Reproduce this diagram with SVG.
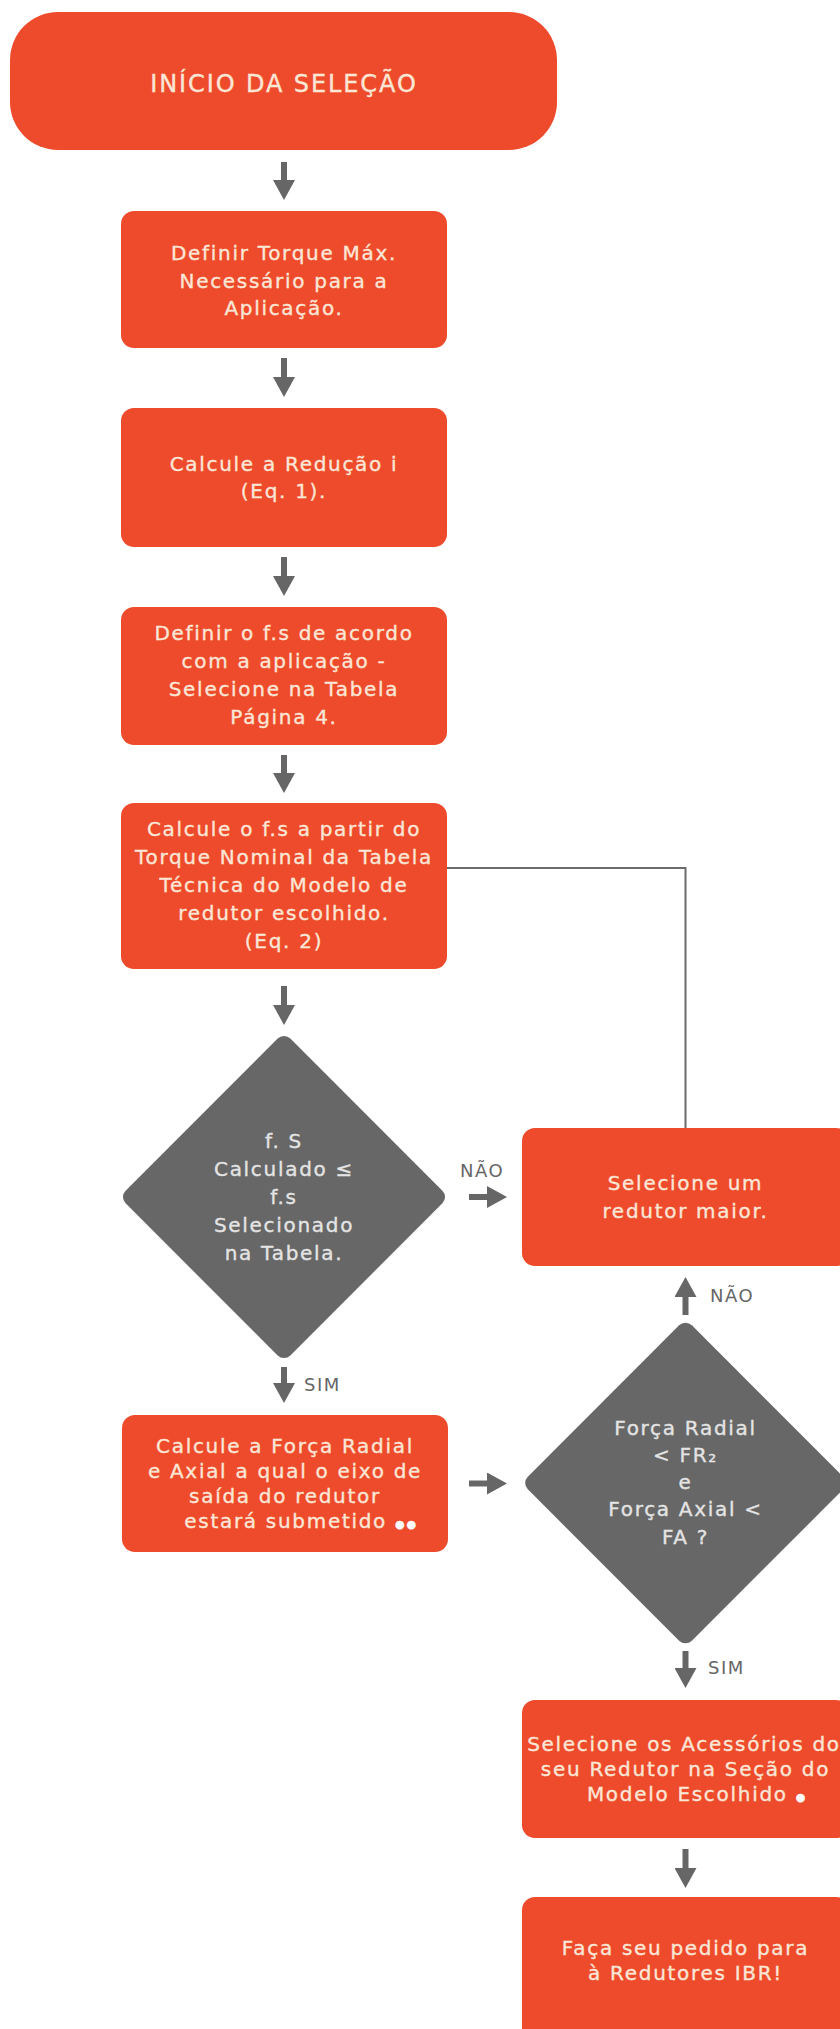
<svg xmlns="http://www.w3.org/2000/svg" width="840" height="2029" viewBox="0 0 840 2029">
<defs>
<style>
.box{fill:#EE4B2D}
.dia{fill:#676767}
.t{font-family:"DejaVu Sans",sans-serif;font-size:20px;letter-spacing:1.7px;fill:#FCE6D6;stroke:#FCE6D6;stroke-width:0.35px;text-anchor:middle}
.td{font-family:"DejaVu Sans",sans-serif;font-size:20px;letter-spacing:1.7px;fill:#E4E4E4;stroke:#E4E4E4;stroke-width:0.35px;text-anchor:middle}
.title{font-family:"DejaVu Sans",sans-serif;font-size:24px;letter-spacing:1.9px;fill:#FCE6D6;stroke:#FCE6D6;stroke-width:0.35px;text-anchor:middle}
.lbl{font-family:"DejaVu Sans",sans-serif;font-size:18px;letter-spacing:1.5px;fill:#666666}
.arr{stroke:#666666;stroke-width:6;fill:none;marker-end:url(#ah)}
.loop{stroke:#6b6b6b;stroke-width:2;fill:none}
.dot{font-size:11px;fill:#FFFFFF;stroke:#FFFFFF}
</style>
<marker id="ah" markerUnits="userSpaceOnUse" markerWidth="20" markerHeight="22" viewBox="0 0 20 22" refX="1" refY="11" orient="auto">
<path d="M0,0 L20,11 L0,22 z" fill="#666666"/>
</marker>
</defs>
<rect x="0" y="0" width="840" height="2029" fill="#FFFFFF"/>

<g id="connectors">
<polyline class="loop" points="447,868 685.5,868 685.5,1128"/>
<line class="arr" x1="284" y1="162" x2="284" y2="181"/>
<line class="arr" x1="284" y1="358" x2="284" y2="378"/>
<line class="arr" x1="284" y1="557" x2="284" y2="577"/>
<line class="arr" x1="284" y1="755" x2="284" y2="774"/>
<line class="arr" x1="284" y1="986" x2="284" y2="1006"/>
<line class="arr" x1="469" y1="1197" x2="488" y2="1197"/>
<line class="arr" x1="284" y1="1367" x2="284" y2="1384"/>
<line class="arr" x1="469" y1="1483.5" x2="488" y2="1483.5"/>
<line class="arr" x1="685.5" y1="1315" x2="685.5" y2="1296"/>
<line class="arr" x1="685.5" y1="1651" x2="685.5" y2="1669"/>
<line class="arr" x1="685.5" y1="1849" x2="685.5" y2="1869"/>
<text class="lbl" x="460" y="1177">NÃO</text>
<text class="lbl" x="710" y="1302">NÃO</text>
<text class="lbl" x="304" y="1391">SIM</text>
<text class="lbl" x="708" y="1674">SIM</text>
</g>

<g id="inicio">
<rect class="box" x="10" y="12" width="547" height="138" rx="48"/>
<text class="title" x="284" y="92">INÍCIO DA SELEÇÃO</text>
</g>

<g id="torque">
<rect class="box" x="121" y="211" width="326" height="137" rx="13"/>
<text class="t" x="284" y="260">Definir Torque Máx.</text>
<text class="t" x="284" y="287.5">Necessário para a</text>
<text class="t" x="284" y="315">Aplicação.</text>
</g>

<g id="reducao">
<rect class="box" x="121" y="408" width="326" height="139" rx="13"/>
<text class="t" x="284" y="470.5">Calcule a Redução i</text>
<text class="t" x="284" y="498">(Eq. 1).</text>
</g>

<g id="fs-definir">
<rect class="box" x="121" y="607" width="326" height="138" rx="13"/>
<text class="t" x="284" y="640">Definir o f.s de acordo</text>
<text class="t" x="284" y="668">com a aplicação -</text>
<text class="t" x="284" y="696">Selecione na Tabela</text>
<text class="t" x="284" y="724">Página 4.</text>
</g>

<g id="fs-calcular">
<rect class="box" x="121" y="803" width="326" height="166" rx="13"/>
<text class="t" x="284" y="836">Calcule o f.s a partir do</text>
<text class="t" x="284" y="864">Torque Nominal da Tabela</text>
<text class="t" x="284" y="892">Técnica do Modelo de</text>
<text class="t" x="284" y="920">redutor escolhido.</text>
<text class="t" x="284" y="948">(Eq. 2)</text>
</g>

<g id="decisao-fs">
<rect class="dia" x="-116.5" y="-116.5" width="233" height="233" rx="9" transform="translate(284,1197) rotate(45)"/>
<text class="td" x="284" y="1148">f. S</text>
<text class="td" x="284" y="1176">Calculado ≤</text>
<text class="td" x="284" y="1204">f.s</text>
<text class="td" x="284" y="1232">Selecionado</text>
<text class="td" x="284" y="1260">na Tabela.</text>
</g>

<g id="redutor-maior">
<rect class="box" x="522" y="1128" width="327" height="138" rx="13"/>
<text class="t" x="685.5" y="1190">Selecione um</text>
<text class="t" x="685.5" y="1218">redutor maior.</text>
</g>

<g id="forcas-calcular">
<rect class="box" x="122" y="1415" width="326" height="137" rx="13"/>
<text class="t" x="285" y="1453">Calcule a Força Radial</text>
<text class="t" x="285" y="1478">e Axial a qual o eixo de</text>
<text class="t" x="285" y="1503">saída do redutor</text>
<text class="t" x="301" y="1528">estará submetido <tspan class="dot">●●</tspan></text>
</g>

<g id="decisao-forcas">
<rect class="dia" x="-116" y="-116" width="232" height="232" rx="9" transform="translate(685.5,1483) rotate(45)"/>
<text class="td" x="685.5" y="1435">Força Radial</text>
<text class="td" x="685.5" y="1462">&lt; FR₂</text>
<text class="td" x="685.5" y="1489">e</text>
<text class="td" x="685.5" y="1516">Força Axial &lt;</text>
<text class="td" x="685.5" y="1544">FA ?</text>
</g>

<g id="acessorios">
<rect class="box" x="522" y="1700" width="327" height="138" rx="13"/>
<text class="t" x="684" y="1751">Selecione os Acessórios do</text>
<text class="t" x="685.5" y="1776">seu Redutor na Seção do</text>
<text class="t" x="697" y="1801">Modelo Escolhido <tspan class="dot">●</tspan></text>
</g>

<g id="pedido">
<rect class="box" x="522" y="1897" width="327" height="145" rx="13"/>
<text class="t" x="685.5" y="1955">Faça seu pedido para</text>
<text class="t" x="685.5" y="1980">à Redutores IBR!</text>
</g>
</svg>
